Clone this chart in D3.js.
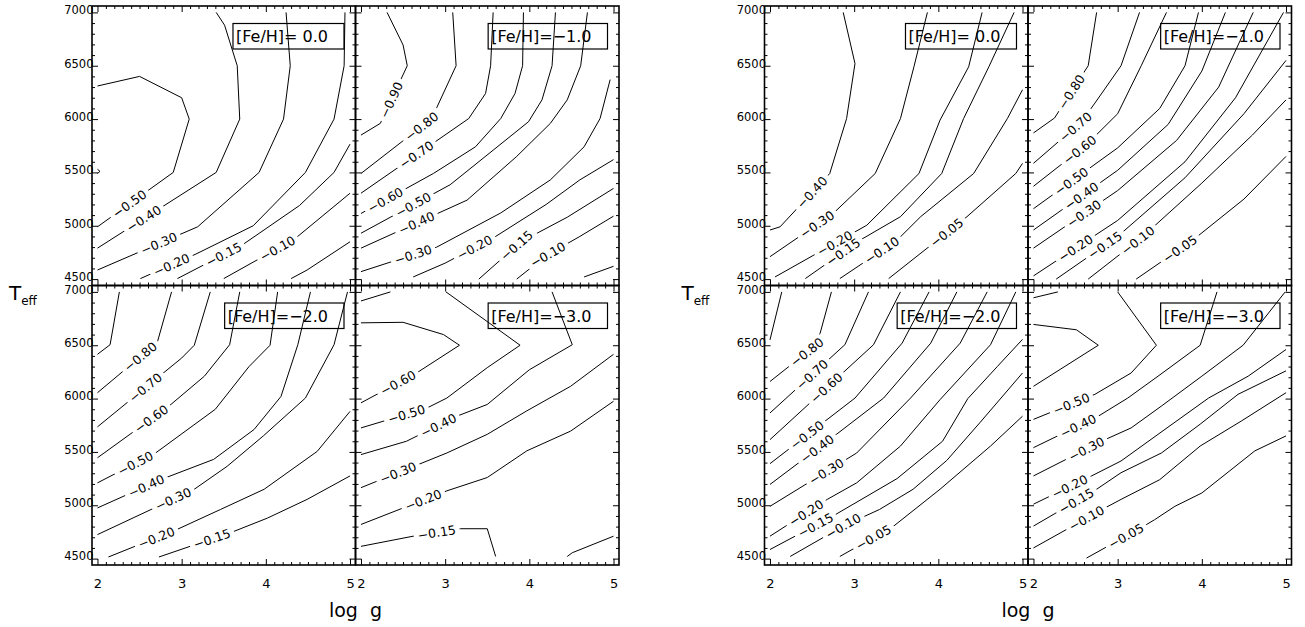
<!DOCTYPE html>
<html>
<head>
<meta charset="utf-8">
<script src="https://cdn.jsdelivr.net/npm/d3@7"></script>
<style>
  html, body { margin: 0; padding: 0; background: #fff; }
  svg { display: block; font-family: "DejaVu Sans", sans-serif; }
</style>
</head>
<body>
<svg id="chart" width="1305" height="627"></svg>
<script>
// ---- axis data ----
const loggTicks = [2, 3, 4, 5];
const teffTicks = [4500, 5000, 5500, 6000, 6500, 7000];
const loggMinor = d3.range(20, 51).map(v => v / 10).filter(v => v % 1 !== 0);
const teffMinor = d3.range(4500, 7001, 100).filter(v => v % 500 !== 0);
const loggDomain = [1.935, 5.065];
const teffDomain = [4440, 7060];
const feLabels = ["[Fe/H]= 0.0", "[Fe/H]=\u22121.0", "[Fe/H]=\u22122.0", "[Fe/H]=\u22123.0"];

// ---- contour lines, set A (left figure): [log g, Teff] vertices, label = log g of label ----
const contoursA_fe0 = [
  { level: -0.50, label: 2.38, pts: [[2.0, 4990], [2.90, 5500], [3.09, 6000], [3.00, 6200], [2.50, 6400], [2.0, 6310]] },
  { level: -0.40, label: 2.55, pts: [[2.0, 4790], [3.41, 5500], [3.69, 6000], [3.66, 6500], [3.51, 6880], [3.41, 7000]] },
  { level: -0.30, label: 2.73, pts: [[2.0, 4585], [3.19, 4990], [3.92, 5500], [4.21, 6000], [4.29, 6500], [4.24, 7000]] },
  { level: -0.20, label: 2.88, pts: [[2.51, 4505], [3.17, 4735], [3.85, 5000], [4.47, 5500], [4.81, 6000], [4.93, 6500], [4.94, 7000]] },
  { level: -0.15, label: 3.50, pts: [[2.95, 4505], [3.72, 4820], [4.40, 5190], [4.81, 5500], [5.0, 5765]] },
  { level: -0.10, label: 4.14, pts: [[3.50, 4505], [4.34, 4875], [5.0, 5305]] },
  { level: -0.05, label: null, pts: [[4.30, 4505], [4.49, 4585], [5.0, 4850]] },
  { level: -0.60, label: null, pts: [[2.0, 5530], [2.03, 5510], [2.0, 5490]] }
];
const contoursA_fe1 = [
  { level: -0.90, label: 2.36, pts: [[2.0, 5850], [2.23, 5960], [2.55, 6500], [2.50, 6695], [2.31, 7000]] },
  { level: -0.80, label: 2.72, pts: [[2.0, 5490], [2.84, 6005], [3.13, 6500], [3.09, 7000]] },
  { level: -0.70, label: 2.66, pts: [[2.0, 5305], [3.28, 6005], [3.48, 6240], [3.54, 6500], [3.57, 7000]] },
  { level: -0.60, label: 2.29, pts: [[2.0, 5115], [2.86, 5490], [3.36, 5740], [3.66, 6005], [3.83, 6240], [3.92, 6500], [3.93, 7000]] },
  { level: -0.50, label: 2.62, pts: [[2.0, 4930], [3.06, 5385], [3.99, 5975], [4.15, 6180], [4.27, 6500], [4.31, 7000]] },
  { level: -0.40, label: 2.66, pts: [[2.0, 4790], [3.26, 5240], [3.85, 5650], [4.25, 5960], [4.45, 6180], [4.61, 6500], [4.69, 7000]] },
  { level: -0.30, label: 2.62, pts: [[2.0, 4570], [2.90, 4800], [3.66, 5120], [4.25, 5430], [4.65, 5740], [4.84, 6005], [4.96, 6370]] },
  { level: -0.20, label: 3.35, pts: [[2.62, 4520], [3.0, 4650], [3.6, 4900], [4.2, 5200], [4.6, 5430], [5.0, 5620]] },
  { level: -0.15, label: 3.85, pts: [[3.40, 4500], [3.9, 4850], [4.45, 5080], [5.0, 5350]] },
  { level: -0.10, label: 4.22, pts: [[3.85, 4500], [4.2, 4720], [4.6, 4900], [5.0, 5090]] },
  { level: -0.05, label: null, pts: [[4.65, 4520], [5.0, 4620]] }
];
const contoursA_fe2 = [
  { level: -0.90, label: null, pts: [[2.0, 6415], [2.15, 6505], [2.26, 7000]] },
  { level: -0.80, label: 2.51, pts: [[2.0, 6055], [2.71, 6525], [2.88, 7000]] },
  { level: -0.70, label: 2.57, pts: [[2.0, 5735], [3.0, 6380], [3.15, 6500], [3.34, 7000]] },
  { level: -0.60, label: 2.64, pts: [[2.0, 5445], [2.85, 5930], [3.27, 6210], [3.57, 6505], [3.69, 7000]] },
  { level: -0.50, label: 2.45, pts: [[2.0, 5210], [2.69, 5490], [3.40, 5900], [3.80, 6300], [4.05, 6500], [4.14, 7000]] },
  { level: -0.40, label: 2.58, pts: [[2.0, 4975], [2.75, 5240], [3.38, 5430], [3.86, 5710], [4.18, 6020], [4.38, 6505], [4.53, 7000]] },
  { level: -0.30, label: 2.90, pts: [[2.0, 4725], [3.15, 5150], [3.54, 5365], [3.97, 5650], [4.47, 6005], [4.81, 6505], [4.97, 7000]] },
  { level: -0.20, label: 2.70, pts: [[2.13, 4515], [2.95, 4775], [3.46, 4960], [3.98, 5150], [4.61, 5505], [5.0, 5880]] },
  { level: -0.15, label: 3.36, pts: [[2.73, 4515], [3.62, 4755], [4.02, 4880], [4.49, 5055], [5.0, 5275]] }
];
const contoursA_fe3 = [
  { level: -0.70, label: null, pts: [[2.0, 6915], [2.35, 7000]] },
  { level: -0.60, label: 2.44, pts: [[2.0, 5960], [2.66, 6240], [3.17, 6500], [2.98, 6600], [2.50, 6715], [2.0, 6710]] },
  { level: -0.50, label: 2.54, pts: [[2.0, 5725], [2.78, 5910], [3.02, 6005], [3.50, 6290], [3.89, 6500], [3.01, 7000]] },
  { level: -0.40, label: 2.92, pts: [[2.0, 5475], [2.54, 5600], [3.14, 5835], [3.50, 5945], [4.0, 6270], [4.51, 6505], [4.27, 7000]] },
  { level: -0.30, label: 2.44, pts: [[2.0, 5165], [3.02, 5490], [3.50, 5665], [3.97, 5885], [4.49, 6115], [5.0, 6415]] },
  { level: -0.20, label: 2.74, pts: [[2.0, 4820], [3.02, 5135], [3.50, 5260], [3.97, 5510], [4.49, 5695], [5.0, 5975]] },
  { level: -0.15, label: 2.90, pts: [[2.0, 4615], [2.62, 4710], [3.18, 4780], [3.50, 4780], [3.60, 4520]] },
  { level: -0.10, label: null, pts: [[4.45, 4520], [4.51, 4555], [5.0, 4710]] }
];

// ---- contour lines, set B (right figure) ----
const contoursB_fe0 = [
  { level: -0.40, label: 2.50, pts: [[2.0, 4960], [2.12, 4990], [2.71, 5490], [2.91, 6005], [3.01, 6520], [2.87, 7000]] },
  { level: -0.30, label: 2.56, pts: [[2.0, 4710], [2.75, 5115], [3.25, 5490], [3.55, 6005], [3.71, 6490], [3.87, 7000]] },
  { level: -0.20, label: 2.77, pts: [[2.06, 4520], [3.15, 5005], [3.77, 5490], [4.02, 5990], [4.36, 6490], [4.52, 7000]] },
  { level: -0.15, label: 2.87, pts: [[2.42, 4505], [3.07, 4865], [3.55, 5085], [4.04, 5490], [4.30, 6005], [4.60, 6490], [4.90, 7000]] },
  { level: -0.10, label: 3.33, pts: [[2.83, 4505], [3.51, 4865], [3.79, 5085], [4.42, 5490], [4.82, 6005], [5.0, 6275]] },
  { level: -0.05, label: 4.10, pts: [[3.41, 4505], [4.34, 5085], [4.92, 5490], [5.0, 5585]] }
];
const contoursB_fe1 = [
  { level: -0.80, label: 2.45, pts: [[2.0, 5870], [2.25, 6010], [2.65, 6500], [2.75, 7000]] },
  { level: -0.70, label: 2.50, pts: [[2.0, 5585], [2.57, 5975], [2.73, 6150], [3.04, 6500], [3.26, 7000]] },
  { level: -0.60, label: 2.55, pts: [[2.0, 5370], [2.63, 5760], [3.0, 6050], [3.28, 6500], [3.58, 7000]] },
  { level: -0.50, label: 2.45, pts: [[2.0, 5160], [3.0, 5730], [3.5, 6100], [3.8, 6500], [3.96, 7000]] },
  { level: -0.40, label: 2.57, pts: [[2.0, 4960], [3.0, 5520], [3.6, 5950], [4.0, 6450], [4.28, 7000]] },
  { level: -0.30, label: 2.60, pts: [[2.0, 4790], [3.0, 5330], [3.7, 5800], [4.2, 6300], [4.61, 7000]] },
  { level: -0.20, label: 2.50, pts: [[2.0, 4530], [3.0, 5050], [3.8, 5600], [4.4, 6200], [4.97, 7000]] },
  { level: -0.15, label: 2.85, pts: [[2.27, 4500], [3.0, 4900], [3.8, 5450], [4.5, 6050], [5.0, 6550]] },
  { level: -0.10, label: 3.24, pts: [[2.65, 4500], [3.3, 4900], [4.0, 5400], [4.6, 5850], [5.0, 6180]] },
  { level: -0.05, label: 3.74, pts: [[3.22, 4500], [3.9, 4870], [4.5, 5250], [5.0, 5650]] }
];
const contoursB_fe2 = [
  { level: -0.90, label: null, pts: [[2.0, 6550], [2.14, 7000]] },
  { level: -0.80, label: 2.44, pts: [[2.0, 6160], [2.56, 6510], [2.73, 7000]] },
  { level: -0.70, label: 2.50, pts: [[2.0, 5865], [2.89, 6505], [3.17, 7000]] },
  { level: -0.60, label: 2.67, pts: [[2.0, 5615], [3.23, 6505], [3.55, 7000]] },
  { level: -0.50, label: 2.44, pts: [[2.0, 5390], [3.01, 6005], [3.57, 6520], [3.89, 7000]] },
  { level: -0.40, label: 2.56, pts: [[2.0, 5195], [2.79, 5665], [3.35, 6005], [3.91, 6520], [4.22, 7000]] },
  { level: -0.30, label: 2.67, pts: [[2.0, 4990], [3.03, 5490], [3.67, 6005], [4.26, 6520], [4.58, 7000]] },
  { level: -0.20, label: 2.43, pts: [[2.0, 4710], [2.68, 5055], [3.03, 5210], [3.55, 5555], [4.02, 5990], [4.62, 6505], [4.92, 7000]] },
  { level: -0.15, label: 2.54, pts: [[2.0, 4585], [2.75, 4900], [3.51, 5250], [4.05, 5600], [4.35, 6000], [4.70, 6300], [5.0, 6555]] },
  { level: -0.10, label: 2.87, pts: [[2.24, 4520], [2.87, 4805], [3.30, 4960], [3.70, 5150], [4.10, 5420], [4.50, 5780], [5.0, 6240]] },
  { level: -0.05, label: 3.23, pts: [[2.83, 4520], [3.47, 4805], [4.02, 5150], [4.62, 5555], [5.0, 5835]] }
];
const contoursB_fe3 = [
  { level: -0.70, label: null, pts: [[2.0, 6945], [2.29, 7000]] },
  { level: -0.60, label: null, pts: [[2.0, 6695], [2.51, 6645], [2.77, 6500], [2.0, 6115]] },
  { level: -0.50, label: 2.45, pts: [[2.0, 5805], [2.73, 6040], [3.16, 6240], [3.46, 6500], [3.0, 7000]] },
  { level: -0.40, label: 2.53, pts: [[2.0, 5540], [2.77, 5835], [3.12, 6005], [3.48, 6210], [3.98, 6500], [4.18, 7000]] },
  { level: -0.30, label: 2.63, pts: [[2.0, 5275], [2.85, 5615], [3.16, 5725], [3.52, 5930], [4.0, 6210], [4.49, 6500], [4.99, 7000]] },
  { level: -0.20, label: 2.43, pts: [[2.0, 5010], [2.69, 5275], [3.04, 5415], [3.48, 5665], [4.08, 6005], [4.55, 6210], [5.0, 6460]] },
  { level: -0.15, label: 2.51, pts: [[2.0, 4805], [2.75, 5150], [3.04, 5305], [3.52, 5490], [3.98, 5760], [4.43, 6040], [5.0, 6260]] },
  { level: -0.10, label: 2.63, pts: [[2.0, 4600], [2.85, 4975], [3.04, 5055], [3.50, 5240], [3.98, 5555], [4.47, 5790], [5.0, 6055]] },
  { level: -0.05, label: 3.10, pts: [[2.63, 4505], [3.28, 4790], [3.44, 4865], [3.68, 4990], [4.0, 5115], [4.63, 5510], [5.0, 5650]] }
];

// ---- layout ----
const W = 1305, H = 627;
const FIG_LEFT = [92, 764.5];
const PANEL_W = 263.5, PANEL_H = 279.5;
const ROW_TOP = [6, 285.5];
const MAJOR = 6, MINOR = 3;

const panels = [
  { fig: 0, col: 0, row: 0, fe: feLabels[0], contours: contoursA_fe0 },
  { fig: 0, col: 1, row: 0, fe: feLabels[1], contours: contoursA_fe1 },
  { fig: 0, col: 0, row: 1, fe: feLabels[2], contours: contoursA_fe2 },
  { fig: 0, col: 1, row: 1, fe: feLabels[3], contours: contoursA_fe3 },
  { fig: 1, col: 0, row: 0, fe: feLabels[0], contours: contoursB_fe0 },
  { fig: 1, col: 1, row: 0, fe: feLabels[1], contours: contoursB_fe1 },
  { fig: 1, col: 0, row: 1, fe: feLabels[2], contours: contoursB_fe2 },
  { fig: 1, col: 1, row: 1, fe: feLabels[3], contours: contoursB_fe3 }
];

const svg = d3.select("#chart");
const defs = svg.append("defs");
const fmt = d3.format(".2f");
const line = d3.line();

// position + angle of a label sitting on the contour at a given log g
function placeOn(pts, lx, x, y) {
  for (let i = 0; i < pts.length - 1; i++) {
    const a = pts[i], b = pts[i + 1];
    if (a[0] !== b[0] && (lx - a[0]) * (lx - b[0]) <= 0) {
      const t = (lx - a[0]) / (b[0] - a[0]);
      const ax = x(a[0]), ay = y(a[1]), bx = x(b[0]), by = y(b[1]);
      let ang = Math.atan2(by - ay, bx - ax) * 180 / Math.PI;
      if (ang > 90) ang -= 180;
      if (ang < -90) ang += 180;
      return { px: ax + t * (bx - ax), py: ay + t * (by - ay), ang };
    }
  }
  return null;
}

panels.forEach((p, idx) => {
  const x0 = FIG_LEFT[p.fig] + p.col * PANEL_W;
  const y0 = ROW_TOP[p.row];
  const x = d3.scaleLinear().domain(loggDomain).range([x0, x0 + PANEL_W]);
  const y = d3.scaleLinear().domain(teffDomain).range([y0 + PANEL_H, y0]);
  line.x(d => x(d[0])).y(d => y(d[1]));

  const g = svg.append("g");
  const maskId = "gap" + idx;
  const mask = defs.append("mask").attr("id", maskId)
    .attr("maskUnits", "userSpaceOnUse")
    .attr("x", 0).attr("y", 0).attr("width", W).attr("height", H);
  mask.append("rect").attr("x", 0).attr("y", 0).attr("width", W).attr("height", H).attr("fill", "#fff");

  const lines = g.append("g").attr("mask", `url(#${maskId})`);
  lines.selectAll("path").data(p.contours).join("path")
    .attr("d", d => line(d.pts))
    .attr("fill", "none").attr("stroke", "#000").attr("stroke-width", 1)
    .attr("stroke-linejoin", "round");

  const labs = g.append("g").attr("font-size", 12.5);
  p.contours.filter(c => c.label !== null).forEach(c => {
    const pos = placeOn(c.pts, c.label, x, y);
    if (!pos) return;
    const tr = `translate(${pos.px},${pos.py}) rotate(${pos.ang})`;
    const t = labs.append("text").attr("transform", tr)
      .attr("text-anchor", "middle").attr("dy", "0.36em")
      .attr("fill", "#000").text(fmt(c.level));
    const len = t.node().getComputedTextLength();
    mask.append("rect").attr("transform", tr)
      .attr("x", -len / 2 - 4).attr("y", -6).attr("width", len + 8).attr("height", 12)
      .attr("fill", "#000");
  });

  // ticks on all four sides, pointing inward
  const tickAxes = [
    [d3.axisBottom(x), `translate(0,${y0 + PANEL_H})`, loggTicks, loggMinor],
    [d3.axisTop(x), `translate(0,${y0})`, loggTicks, loggMinor],
    [d3.axisLeft(y), `translate(${x0},0)`, teffTicks, teffMinor],
    [d3.axisRight(y), `translate(${x0 + PANEL_W},0)`, teffTicks, teffMinor]
  ];
  tickAxes.forEach(([ax, tr, major, minor]) => {
    g.append("g").attr("transform", tr)
      .call(ax.tickValues(major).tickSizeInner(-MAJOR).tickSizeOuter(0).tickFormat(""))
      .call(s => s.select(".domain").remove())
      .call(s => s.selectAll("line").attr("stroke", "#000"));
    g.append("g").attr("transform", tr)
      .call(ax.tickValues(minor).tickSizeInner(-MINOR).tickSizeOuter(0).tickFormat(""))
      .call(s => s.select(".domain").remove())
      .call(s => s.selectAll("line").attr("stroke", "#000"));
  });

  // frame
  g.append("rect").attr("x", x0).attr("y", y0).attr("width", PANEL_W).attr("height", PANEL_H)
    .attr("fill", "none").attr("stroke", "#000").attr("stroke-width", 1.6);

  // tick labels
  if (p.col === 0) {
    g.append("g").attr("transform", `translate(${x0 + 1.5},0)`)
      .call(d3.axisLeft(y).tickValues(teffTicks).tickSize(0).tickPadding(0).tickFormat(d3.format("d")))
      .call(s => s.select(".domain").remove())
      .call(s => s.selectAll("text").attr("font-size", 11.5).attr("fill", "#000")
        .attr("font-family", "DejaVu Sans").attr("dy", "0.12em"));
  }
  if (p.row === 1) {
    g.append("g").attr("transform", `translate(0,${y0 + PANEL_H})`)
      .call(d3.axisBottom(x).tickValues(loggTicks).tickSize(0).tickPadding(14).tickFormat(d3.format("d")))
      .call(s => s.select(".domain").remove())
      .call(s => s.selectAll("text").attr("font-size", 13).attr("fill", "#000")
        .attr("font-family", "DejaVu Sans"));
  }

  // metallicity box
  const right = x0 + PANEL_W - 11.5;
  const ft = g.append("text").attr("font-size", 16).attr("fill", "#000")
    .attr("y", y0 + 36).attr("xml:space", "preserve").text(p.fe);
  const flen = ft.node().getComputedTextLength();
  const tx = right - 16 - flen;
  ft.attr("x", tx);
  g.append("rect").attr("x", tx - 3).attr("y", y0 + 17.5)
    .attr("width", right - (tx - 3)).attr("height", 25.5)
    .attr("fill", "none").attr("stroke", "#000").attr("stroke-width", 1.2);
});

// axis titles
FIG_LEFT.forEach(fx => {
  svg.append("text").attr("x", fx + PANEL_W).attr("y", 617)
    .attr("text-anchor", "middle").attr("font-size", 19).attr("fill", "#000")
    .attr("xml:space", "preserve").text("log  g");
  const t = svg.append("text").attr("x", fx - 83).attr("y", 300)
    .attr("font-size", 20).attr("fill", "#000");
  t.append("tspan").text("T");
  t.append("tspan").attr("font-size", 12).attr("dy", 5).text("eff");
});
</script>
</body>
</html>
